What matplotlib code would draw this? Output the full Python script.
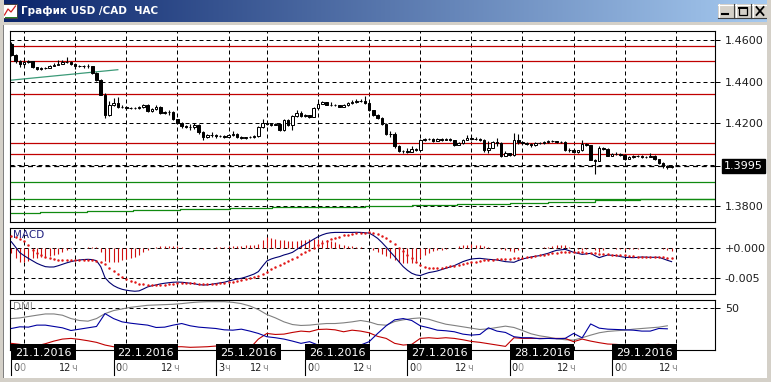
import numpy as np
import matplotlib
matplotlib.use("Agg")
import matplotlib.pyplot as plt
from matplotlib.patches import Rectangle
from matplotlib.lines import Line2D
from matplotlib.transforms import blended_transform_factory, offset_copy

plt.rcParams['font.family'] = ['DejaVu Sans']

# ---------------- data (hourly USD/CAD) ----------------
open_first = 1.4580
closes = [
    1.4530, 1.4500, 1.4487, 1.4493, 1.4500, 1.4470, 1.4462, 1.4465, 1.4468, 1.4478,
    1.4483, 1.4487, 1.4495, 1.4497, 1.4485, 1.4474, 1.4477, 1.4475, 1.4474, 1.4442,
    1.4410, 1.4337, 1.4241, 1.4289, 1.4298, 1.4278, 1.4280, 1.4272, 1.4273, 1.4273,
    1.4276, 1.4287, 1.4260, 1.4268, 1.4278, 1.4249, 1.4252, 1.4252, 1.4220, 1.4202,
    1.4188, 1.4183, 1.4180, 1.4192, 1.4156, 1.4133, 1.4142, 1.4145, 1.4136, 1.4138,
    1.4135, 1.4142, 1.4150, 1.4135, 1.4128, 1.4131, 1.4134, 1.4138, 1.4180, 1.4200,
    1.4195, 1.4192, 1.4198, 1.4165, 1.4213, 1.4193, 1.4236, 1.4250, 1.4236, 1.4238,
    1.4232, 1.4273, 1.4294, 1.4300, 1.4290, 1.4288, 1.4286, 1.4280, 1.4287, 1.4295,
    1.4302, 1.4306, 1.4308, 1.4297, 1.4262, 1.4241, 1.4225, 1.4197, 1.4149, 1.4150,
    1.4091, 1.4064, 1.4067, 1.4062, 1.4075, 1.4072, 1.4117, 1.4123, 1.4123, 1.4115,
    1.4125, 1.4120, 1.4125, 1.4118, 1.4096, 1.4104, 1.4120, 1.4127, 1.4122, 1.4125,
    1.4120, 1.4069, 1.4082, 1.4107, 1.4105, 1.4043, 1.4055, 1.4045, 1.4117, 1.4108,
    1.4105, 1.4100, 1.4095, 1.4105, 1.4102, 1.4107, 1.4112, 1.4112, 1.4110, 1.4110,
    1.4069, 1.4072, 1.4059, 1.4068, 1.4101, 1.4093, 1.4024, 1.4017, 1.4080, 1.4075,
    1.4043, 1.4050, 1.4053, 1.4048, 1.4027, 1.4037, 1.4040, 1.4042, 1.4037, 1.4037,
    1.4042, 1.4025, 1.4008, 1.3995, 1.3990, 1.3995]
highs = [
    1.4590, 1.4535, 1.4505, 1.4500, 1.4505, 1.4502, 1.4472, 1.4470, 1.4472, 1.4482,
    1.4488, 1.4503, 1.4505, 1.4520, 1.4500, 1.4490, 1.4483, 1.4482, 1.4485, 1.4478,
    1.4445, 1.4412, 1.4345, 1.4305, 1.4320, 1.4325, 1.4288, 1.4282, 1.4278, 1.4278,
    1.4285, 1.4292, 1.4292, 1.4272, 1.4290, 1.4282, 1.4258, 1.4265, 1.4258, 1.4222,
    1.4205, 1.4192, 1.4195, 1.4200, 1.4195, 1.4160, 1.4150, 1.4155, 1.4148, 1.4145,
    1.4143, 1.4147, 1.4162, 1.4152, 1.4138, 1.4135, 1.4138, 1.4145, 1.4185, 1.4220,
    1.4205, 1.4198, 1.4203, 1.4200, 1.4220, 1.4222, 1.4240, 1.4265, 1.4258, 1.4245,
    1.4240, 1.4278, 1.4300, 1.4305, 1.4303, 1.4302, 1.4292, 1.4290, 1.4292, 1.4300,
    1.4310, 1.4315, 1.4318, 1.4330, 1.4300, 1.4265, 1.4245, 1.4228, 1.4200, 1.4162,
    1.4155, 1.4095, 1.4072, 1.4078, 1.4090, 1.4080, 1.4122, 1.4130, 1.4128, 1.4126,
    1.4130, 1.4128, 1.4130, 1.4128, 1.4120, 1.4108, 1.4124, 1.4145, 1.4140, 1.4133,
    1.4128, 1.4125, 1.4115, 1.4112, 1.4128, 1.4110, 1.4065, 1.4058, 1.4152, 1.4148,
    1.4112, 1.4110, 1.4102, 1.4110, 1.4108, 1.4112, 1.4120, 1.4117, 1.4115, 1.4114,
    1.4112, 1.4080, 1.4075, 1.4072, 1.4118, 1.4105, 1.4095, 1.4028, 1.4092, 1.4085,
    1.4078, 1.4055, 1.4062, 1.4056, 1.4050, 1.4042, 1.4045, 1.4047, 1.4045, 1.4042,
    1.4055, 1.4045, 1.4028, 1.4010, 1.3998, 1.4000]
lows = [
    1.4525, 1.4490, 1.4470, 1.4475, 1.4490, 1.4465, 1.4455, 1.4458, 1.4462, 1.4465,
    1.4475, 1.4480, 1.4485, 1.4490, 1.4480, 1.4462, 1.4470, 1.4468, 1.4465, 1.4438,
    1.4402, 1.4335, 1.4225, 1.4235, 1.4285, 1.4272, 1.4272, 1.4265, 1.4268, 1.4268,
    1.4270, 1.4272, 1.4255, 1.4255, 1.4262, 1.4245, 1.4245, 1.4240, 1.4215, 1.4195,
    1.4178, 1.4178, 1.4168, 1.4170, 1.4150, 1.4120, 1.4128, 1.4135, 1.4130, 1.4132,
    1.4130, 1.4135, 1.4140, 1.4130, 1.4122, 1.4125, 1.4128, 1.4130, 1.4132, 1.4178,
    1.4190, 1.4186, 1.4190, 1.4160, 1.4160, 1.4188, 1.4168, 1.4232, 1.4232, 1.4228,
    1.4225, 1.4228, 1.4270, 1.4292, 1.4287, 1.4285, 1.4282, 1.4278, 1.4280, 1.4285,
    1.4292, 1.4298, 1.4300, 1.4292, 1.4258, 1.4235, 1.4218, 1.4190, 1.4145, 1.4135,
    1.4078, 1.4060, 1.4058, 1.4058, 1.4060, 1.4065, 1.4068, 1.4112, 1.4118, 1.4110,
    1.4112, 1.4116, 1.4118, 1.4114, 1.4090, 1.4094, 1.4100, 1.4118, 1.4118, 1.4118,
    1.4115, 1.4060, 1.4055, 1.4078, 1.4088, 1.4035, 1.4040, 1.4040, 1.4040, 1.4100,
    1.4100, 1.4095, 1.4085, 1.4092, 1.4098, 1.4100, 1.4105, 1.4108, 1.4106, 1.4105,
    1.4065, 1.4062, 1.4055, 1.4055, 1.4065, 1.4088, 1.4020, 1.3956, 1.4015, 1.4070,
    1.4040, 1.4042, 1.4045, 1.4043, 1.4022, 1.4025, 1.4032, 1.4035, 1.4033, 1.4030,
    1.4035, 1.4020, 1.4003, 1.3985, 1.3980, 1.3985]

red_levels = [1.4571, 1.4499, 1.4339, 1.4104, 1.4050]
green_levels = [1.3914, 1.3834]
trend_bars = [-0.3, 25.0]
trend_prices = [1.4407, 1.4458]
step_bars = [-0.3, 6.7, 17.8, 28.6, 39.6, 51.3, 61.2, 72.0, 83.0, 94.1, 104.6,
             117.1, 126.0, 137.0, 147.6, 158.6, 165.2]
step_prices = [1.3765, 1.3771, 1.3776, 1.3781, 1.3785, 1.3789, 1.3794, 1.3797, 1.3801,
               1.3807, 1.3812, 1.3814, 1.3821, 1.3829, 1.3832, 1.3835, 1.3835]
last_price = 1.3995
price_grid = [1.46, 1.44, 1.42, 1.40, 1.38]
price_ticks = [1.4600, 1.4400, 1.4200, 1.3995, 1.3800]
price_tick_labels = ["1.4600", "1.4400", "1.4200", "", "1.3800"]

# MACD in thousandths
macd = [
    0.98, 0.10, -0.81, -1.30, -1.74, -2.15, -2.55, -2.85, -3.10, -3.16,
    -3.15, -2.95, -2.72, -2.48, -2.28, -2.12, -2.01, -1.94, -1.90, -1.95,
    -2.12, -3.10, -4.90, -5.66, -6.20, -6.55, -6.80, -6.95, -7.05, -7.12,
    -7.06, -6.75, -6.41, -6.22, -6.08, -5.92, -5.81, -5.72, -5.65, -5.62,
    -5.65, -5.72, -5.81, -5.90, -6.03, -6.10, -6.08, -5.98, -5.86, -5.75,
    -5.65, -5.45, -5.27, -5.12, -5.00, -4.80, -4.56, -4.30, -3.91, -3.00,
    -2.17, -1.85, -1.63, -1.45, -1.19, -1.00, -0.76, -0.30, 0.16, 0.55,
    0.98, 1.40, 1.79, 2.10, 2.33, 2.45, 2.50, 2.50, 2.50, 2.50,
    2.50, 2.52, 2.50, 2.45, 2.39, 2.00, 1.52, 0.85, 0.10, -0.70,
    -1.47, -2.30, -3.10, -3.70, -4.18, -4.45, -4.56, -4.30, -4.07, -3.95,
    -3.80, -3.58, -3.37, -3.15, -2.93, -2.60, -2.28, -2.05, -1.85, -1.78,
    -1.74, -1.82, -1.90, -1.95, -2.01, -2.15, -2.28, -2.33, -2.39, -2.10,
    -1.85, -1.68, -1.52, -1.40, -1.30, -1.10, -0.92, -0.65, -0.43, -0.35,
    -0.27, -0.50, -0.76, -0.92, -1.09, -1.00, -0.92, -1.30, -1.63, -1.40,
    -1.19, -1.25, -1.30, -1.45, -1.57, -1.60, -1.63, -1.58, -1.52, -1.55,
    -1.57, -1.57, -1.57, -1.80, -2.06, -2.28]
signal = [
    1.90, 1.75, 1.45, 1.09, 0.40, -0.40, -0.90, -1.25, -1.55, -1.75,
    -1.90, -2.00, -2.06, -2.08, -2.06, -2.02, -1.98, -1.95, -1.95, -2.02,
    -2.17, -2.40, -2.72, -3.25, -3.80, -4.28, -4.72, -5.10, -5.43, -5.68,
    -5.86, -5.98, -6.08, -6.12, -6.14, -6.12, -6.08, -6.00, -5.92, -5.84,
    -5.76, -5.75, -5.76, -5.80, -5.86, -5.92, -5.97, -5.95, -5.92, -5.85,
    -5.76, -5.68, -5.59, -5.46, -5.32, -5.17, -5.00, -4.80, -4.56, -4.25,
    -3.91, -3.50, -3.10, -2.77, -2.44, -2.15, -1.85, -1.47, -1.09, -0.73,
    -0.38, 0.03, 0.43, 0.80, 1.14, 1.40, 1.63, 1.83, 2.01, 2.15,
    2.28, 2.37, 2.44, 2.48, 2.50, 2.38, 2.17, 1.88, 1.52, 1.05,
    0.54, 0.00, -0.54, -1.15, -1.74, -2.30, -2.82, -3.08, -3.26, -3.33,
    -3.37, -3.28, -3.15, -3.05, -2.93, -2.83, -2.72, -2.55, -2.39, -2.28,
    -2.17, -2.09, -2.01, -1.95, -1.90, -1.87, -1.85, -1.80, -1.74, -1.68,
    -1.63, -1.55, -1.47, -1.36, -1.25, -1.14, -1.03, -0.92, -0.81, -0.73,
    -0.65, -0.65, -0.65, -0.70, -0.76, -0.81, -0.87, -0.92, -0.98, -1.03,
    -1.09, -1.12, -1.14, -1.20, -1.25, -1.33, -1.41, -1.44, -1.47, -1.47,
    -1.47, -1.50, -1.52, -1.57, -1.63, -1.74]
macd_ticks = [0.0, -5.0]
macd_tick_labels = ["+0.000", "-0.005"]

# DMI sampled every 2 bars
dmi_step = 2
adx = [
    37.4, 38.2, 39.8, 41.4, 42.9, 42.9, 41.4, 37.4, 35.1, 34.3,
    37.4, 43.3, 46.9, 48.9, 50.8, 52.0, 53.2, 53.6, 54.0, 54.4,
    55.2, 56.3, 57.1, 57.5, 57.5, 57.5, 56.7, 55.2, 52.4, 48.1,
    42.2, 38.2, 33.5, 30.3, 29.2, 29.6, 30.7, 31.5, 31.5, 32.3,
    33.5, 35.1, 33.5, 30.3, 29.5, 33.9, 35.9, 37.4, 38.2, 36.6,
    33.5, 30.7, 29.2, 27.6, 26.0, 24.4, 25.2, 26.8, 28.4, 26.8,
    23.2, 19.3, 16.9, 15.4, 13.4, 12.2, 11.8, 14.6, 17.7, 20.5,
    22.1, 22.9, 23.6, 24.8, 25.6, 26.4, 27.2, 28.8]
plus_di = [
    25.6, 27.6, 27.2, 29.6, 29.6, 28.0, 26.4, 23.2, 24.8, 26.4,
    28.0, 43.3, 37.4, 33.5, 31.9, 30.7, 29.6, 26.8, 27.2, 29.6,
    31.5, 28.8, 27.2, 26.4, 25.6, 24.0, 23.6, 24.8, 22.5, 19.7,
    15.8, 14.6, 13.0, 10.6, 7.9, 9.9, 5.9, 5.9, 5.9, 5.9,
    5.1, 5.9, 9.9, 19.7, 28.8, 35.9, 37.4, 35.1, 28.8, 26.4,
    23.6, 22.9, 21.7, 18.9, 17.7, 18.5, 26.4, 22.5, 20.9, 15.8,
    14.6, 14.6, 13.4, 13.8, 13.4, 13.8, 19.7, 14.5, 31.0, 26.0,
    24.8, 24.4, 24.0, 23.6, 22.5, 22.5, 25.6, 25.2]
minus_di = [
    7.9, 6.7, 5.1, 5.1, 7.5, 10.6, 13.0, 13.8, 12.6, 11.0,
    9.1, 5.9, 3.9, 2.8, 2.8, 3.5, 3.2, 3.5, 3.9, 3.9,
    3.9, 3.2, 3.5, 3.9, 4.7, 3.9, 3.5, 3.2, 2.0, 13.0,
    19.7, 18.5, 18.9, 20.9, 22.5, 21.7, 24.4, 24.8, 24.0, 21.7,
    23.6, 22.5, 20.5, 16.2, 13.8, 7.9, 5.9, 6.7, 13.8, 14.6,
    13.8, 14.6, 13.8, 12.2, 10.2, 9.1, 7.5, 5.9, 4.3, 14.6,
    13.8, 13.8, 13.8, 13.8, 13.8, 13.8, 9.9, 13.0, 10.6, 8.7,
    7.1, 6.7, 5.9, 5.9, 5.9, 6.3, 6.7, 5.1]
dmi_ticks = [50]

day_labels = ["21.1.2016", "22.1.2016", "25.1.2016", "26.1.2016",
              "27.1.2016", "28.1.2016", "29.1.2016"]
day_start = [3, 27, 51, 72, 96, 120, 144]
hour_ticks = [3, 15, 27, 39, 51, 60, 72, 84, 96, 108, 120, 132, 144, 156]
hour_labels = ["00", "12ч", "00", "12ч", "3ч", "12ч", "00", "12ч",
               "00", "12ч", "00", "12ч", "00", "12ч"]

title = "График USD /CAD  ЧАС"

# ---------------- figure ----------------
W, H = 771, 382
fig = plt.figure(figsize=(W / 100, H / 100), dpi=100)
fig.patch.set_facecolor('white')


def fr(x0, y0, x1, y1):
    return [x0 / W, 1 - y1 / H, (x1 - x0) / W, (y1 - y0) / H]


def frame_rect(x0, y0, x1, y1, color):
    fig.patches.append(Rectangle((x0 / W, 1 - y1 / H), (x1 - x0) / W, (y1 - y0) / H,
                                 transform=fig.transFigure, facecolor=color,
                                 edgecolor='none', zorder=0))


GRAY = '#d4d0c8'
frame_rect(0, 0, 4, H, GRAY)
frame_rect(W - 4, 0, W, H, GRAY)
frame_rect(0, H - 4, W, H, GRAY)
frame_rect(0, 22, W, 25, GRAY)
frame_rect(3, 25, 4, H - 4, '#808080')

# title bar
tax = fig.add_axes([0, 1 - 22 / H, 1, 22 / H])
g = np.linspace(0, 1, 400)
c0 = np.array([10, 36, 106]) / 255.0
c1 = np.array([166, 202, 240]) / 255.0
img = c0[None, None, :] * (1 - g[None, :, None]) + c1[None, None, :] * g[None, :, None]
tax.imshow(img, aspect='auto', extent=[0, W, 22, 0], interpolation='bilinear')
tax.set_xlim(0, W)
tax.set_ylim(22, 0)
tax.axis('off')
tax.add_patch(Rectangle((3, 4), 14, 14, facecolor='white', edgecolor='#404040', lw=0.7))
tax.plot([4.5, 8, 11, 15.5], [15, 9, 12, 6], color='#d02020', lw=0.9)
tax.plot([4.5, 15.5], [16.5, 16.5], color='#208020', lw=0.7)
tax.text(21, 11.5, title, color='white', fontsize=7.5, fontweight='bold',
         ha='left', va='center')
for i, bx in enumerate([718, 735, 752]):
    tax.add_patch(Rectangle((bx, 4), 16, 14, facecolor=GRAY, edgecolor='none'))
    tax.plot([bx, bx + 16], [4.5, 4.5], color='white', lw=0.8)
    tax.plot([bx + 0.5, bx + 0.5], [4, 18], color='white', lw=0.8)
    tax.plot([bx, bx + 16], [17.5, 17.5], color='#404040', lw=0.8)
    tax.plot([bx + 15.5, bx + 15.5], [4, 18], color='#404040', lw=0.8)
    if i == 0:
        tax.plot([bx + 4, bx + 10], [14, 14], color='black', lw=1.5)
    elif i == 1:
        tax.add_patch(Rectangle((bx + 4, 7), 8, 8, facecolor='none', edgecolor='black', lw=0.9))
        tax.plot([bx + 4, bx + 12], [7.5, 7.5], color='black', lw=1.4)
    else:
        tax.plot([bx + 4.5, bx + 11.5], [7, 15], color='black', lw=1.3)
        tax.plot([bx + 4.5, bx + 11.5], [15, 7], color='black', lw=1.3)

# panels
XL = ((10 - 11.3) / 4.26, (715 - 11.3) / 4.26)
ax1 = fig.add_axes(fr(10, 31, 715, 222))
ax2 = fig.add_axes(fr(10, 228, 715, 294))
ax3 = fig.add_axes(fr(10, 300, 715, 350))
DASH = (0, (4, 3))
for ax in (ax1, ax2, ax3):
    ax.set_xlim(*XL)
    ax.set_facecolor('white')
    for s in ax.spines.values():
        s.set_linewidth(0.8)
        s.set_color('black')
    ax.set_xticks([])
    ax.yaxis.tick_right()
    ax.tick_params(axis='y', direction='out', length=3.5, width=0.72, pad=3.5,
                   labelsize=8, color='black', labelcolor='#1e1e1e')
    for gx in hour_ticks:
        ax.axvline(gx, color='black', lw=0.72, ls=DASH, zorder=1)

# main price panel
ax1.set_ylim(1.37227, 1.46449)
for p in price_grid:
    ax1.axhline(p, color='black', lw=0.72, ls=DASH, zorder=1)
for p in red_levels:
    ax1.axhline(p, color='#c00000', lw=0.9, zorder=2)
for p in green_levels:
    ax1.axhline(p, color='#108a10', lw=0.9, zorder=2)
ax1.plot(step_bars, step_prices, drawstyle='steps-post', color='#108a10', lw=0.9, zorder=2)
ax1.plot(trend_bars, trend_prices, color='#3c9a78', lw=0.9, zorder=2)
ax1.axhline(last_price, color='black', lw=0.9, ls=DASH, zorder=2)

x = np.arange(len(closes))
c = np.array(closes)
o = np.array([open_first] + closes[:-1])
hi = np.array(highs)
lo = np.array(lows)
ax1.vlines(x, lo, hi, color='black', lw=0.8, zorder=3)
up = c >= o
bot = np.minimum(o, c)
ht = np.abs(c - o)
ax1.bar(x[up], ht[up], bottom=bot[up], width=0.6, facecolor='white',
        edgecolor='black', lw=0.72, zorder=4)
ax1.bar(x[~up], ht[~up], bottom=bot[~up], width=0.6, facecolor='black',
        edgecolor='black', lw=0.72, zorder=4)
ax1.set_yticks(price_ticks)
ax1.set_yticklabels(price_tick_labels)
ax1.text(1 + 9 / 705, last_price, "1.3995", transform=ax1.get_yaxis_transform(),
         ha='left', va='center', fontsize=8, color='white', zorder=10, clip_on=False,
         bbox=dict(boxstyle='square,pad=0.18', fc='black', ec='black'))

# MACD panel
ax2.set_ylim(-7.57, 3.22)
for v in macd_ticks:
    ax2.axhline(v, color='black', lw=0.72, ls=DASH, zorder=1)
hist = np.array(macd) - np.array(signal)
ax2.vlines(x, 0, hist, color='#d01010', lw=0.8, zorder=2)
ax2.plot(x, macd, color='#000070', lw=0.8, zorder=3)
ax2.scatter(x, signal, s=3.2, color='#e01818', linewidths=0, zorder=4)
ax2.set_yticks(macd_ticks)
ax2.set_yticklabels(macd_tick_labels)
ax2.text(3 / 705, 0.89, "MACD", transform=ax2.transAxes, fontsize=7.5,
         color='#202080', ha='left', va='center', zorder=6)

# DMI panel
ax3.set_ylim(0, 59.5)
for v in dmi_ticks:
    ax3.axhline(v, color='black', lw=0.72, ls=DASH, zorder=1)
xd = np.arange(0, len(closes), dmi_step)
ax3.plot(xd, adx, color='#808080', lw=0.8, zorder=2)
ax3.plot(xd, minus_di, color='#c00000', lw=0.8, zorder=3)
ax3.plot(xd, plus_di, color='#0000a0', lw=0.8, zorder=4)
ax3.set_yticks(dmi_ticks)
ax3.set_yticklabels([str(v) for v in dmi_ticks])
ax3.text(3 / 705, 0.85, "DMI", transform=ax3.transAxes, fontsize=7.5,
         color='#909090', ha='left', va='center', zorder=6)

# date axis
bt = blended_transform_factory(ax3.transData, fig.transFigure)
for lab, ds in zip(day_labels, day_start):
    left = max(ds - 3.0, XL[0])
    ax3.add_patch(Rectangle((left, 1 - 360 / H), 15.2, 16 / H, transform=bt,
                            facecolor='black', edgecolor='none', clip_on=False, zorder=10))
    ax3.text(left + 7.6, 1 - 352.5 / H, lab, transform=bt, ha='center', va='center',
             color='white', fontsize=8, zorder=11, clip_on=False)
    ax3.add_line(Line2D([left, left], [1 - 360 / H, 1 - 375 / H], transform=bt,
                        color='black', lw=0.8, clip_on=False, zorder=10))

renderer = fig.canvas.get_renderer()
for tk, lab in zip(hour_ticks, hour_labels):
    suf = ax3.text(tk + 0.35, 1 - 368 / H, lab[-1], transform=bt, ha='right', va='center',
                   color='#909090', fontsize=7, clip_on=False, zorder=11)
    w = suf.get_window_extent(renderer).width
    ax3.text(tk + 0.35, 1 - 368 / H, lab[:-1],
             transform=offset_copy(bt, fig=fig, x=-w, y=0, units='dots'),
             ha='right', va='center', color='#202020', fontsize=7, clip_on=False, zorder=11)

fig.savefig("out.png", dpi=100)
